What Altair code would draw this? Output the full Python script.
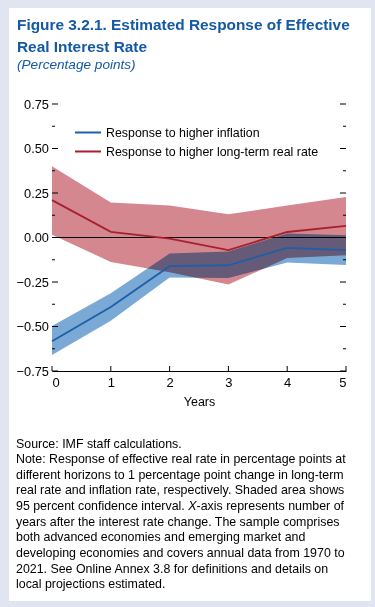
import altair as alt
import pandas as pd

# ---------------- data ----------------
years = [0, 1, 2, 3, 4, 5]
infl_mid = [-0.583, -0.390, -0.161, -0.156, -0.058, -0.071]
infl_lo = [-0.660, -0.468, -0.225, -0.228, -0.140, -0.155]
infl_hi = [-0.497, -0.313, -0.090, -0.078, 0.022, 0.013]
lt_mid = [0.210, 0.032, -0.006, -0.071, 0.031, 0.065]
lt_lo = [0.015, -0.137, -0.195, -0.264, -0.115, -0.100]
lt_hi = [0.400, 0.197, 0.180, 0.130, 0.180, 0.228]

series_names = ["Response to higher inflation", "Response to higher long-term real rate"]
line_colors = ["#1f5fa8", "#a8202e"]
band_colors = ["#79a9d4", "#d4878f"]

y_major = [-0.75, -0.5, -0.25, 0.0, 0.25, 0.5, 0.75]
y_minor = [-0.625, -0.375, -0.125, 0.125, 0.375, 0.625]

title_lines = ["Figure 3.2.1.  Estimated Response of Effective", "Real Interest Rate"]
subtitle = "(Percentage points)"
notes_a = [
    "Source: IMF staff calculations.",
    "Note: Response of effective real rate in percentage points at",
    "different horizons to 1 percentage point change in long-term",
    "real rate and inflation rate, respectively. Shaded area shows",
]
notes_line5 = ["95 percent confidence interval. ", "X", "-axis represents number of"]
notes_b = [
    "years after the interest rate change. The sample comprises",
    "both advanced economies and emerging market and",
    "developing economies and covers annual data from 1970 to",
    "2021. See Online Annex 3.8 for definitions and details on",
    "local projections estimated.",
]

rows = []
for i, yr in enumerate(years):
    rows.append(dict(year=yr, series=series_names[0], mid=infl_mid[i], lo=infl_lo[i], hi=infl_hi[i]))
    rows.append(dict(year=yr, series=series_names[1], mid=lt_mid[i], lo=lt_lo[i], hi=lt_hi[i]))
df = pd.DataFrame(rows)

FONT = "Liberation Sans, Arial, sans-serif"
BLUE_T = "#1459a4"
W, H = 294, 267

xs = alt.Scale(domain=[0, 5], nice=False, zero=False)
ys = alt.Scale(domain=[-0.75, 0.75], nice=False, zero=False)

x_axis = alt.Axis(values=years, format="d", title="Years", ticks=False, domain=True,
                  domainColor="black", domainWidth=1, grid=False, labelPadding=5,
                  titlePadding=6, labelFontSize=13, titleFontSize=12.5,
                  labelFont=FONT, titleFont=FONT, labelColor="black",
                  titleColor="black", titleFontWeight="normal", zindex=1)
y_axis = alt.Axis(values=y_major, format=".2f", ticks=False, domain=False, grid=False,
                  labelPadding=3.5, labelFontSize=12.8, labelFont=FONT, labelColor="black",
                  title=None, zindex=1)

def X(field):
    return alt.X(field, type="quantitative", scale=xs, axis=x_axis)

def Y(field):
    return alt.Y(field, type="quantitative", scale=ys, axis=y_axis, title=None)

one = pd.DataFrame({"k": [0]})

panel = alt.Chart(one).mark_rect(color="white").encode(
    x=alt.value(-43), x2=alt.value(319), y=alt.value(-96), y2=alt.value(497))

base = alt.Chart(df)
red_band = base.transform_filter(alt.datum.series == series_names[1]).mark_area(
    color=band_colors[1], opacity=1).encode(x=X("year"), y=Y("lo"), y2="hi")
blue_band = base.transform_filter(alt.datum.series == series_names[0]).mark_area(
    color=band_colors[0], opacity=1, blend="multiply").encode(x=X("year"), y=Y("lo"), y2="hi")

zero = alt.Chart(one).mark_rule(color="black", strokeWidth=1).encode(
    y=alt.Y("z:Q", scale=ys, axis=y_axis, title=None), x=alt.value(0), x2=alt.value(W)
).transform_calculate(z="0")

lines = base.mark_line(strokeWidth=1.8).encode(
    x=X("year"), y=Y("mid"),
    color=alt.Color("series:N",
                    scale=alt.Scale(domain=series_names, range=line_colors),
                    legend=alt.Legend(title=None, orient="none", legendX=22, legendY=21,
                                      symbolType="stroke", symbolSize=676,
                                      symbolStrokeWidth=2, clipHeight=15, rowPadding=4,
                                      labelFontSize=12.4, labelFont=FONT, labelColor="black",
                                      labelOffset=4, padding=0, labelLimit=400)),
    order="year:Q")

maj = pd.DataFrame({"v": y_major})
mnr = pd.DataFrame({"v": y_minor})
tick_l_maj = alt.Chart(maj).mark_rule(color="black").encode(y=Y("v"), x=alt.value(0), x2=alt.value(6))
tick_r_maj = alt.Chart(maj).mark_rule(color="black").encode(y=Y("v"), x=alt.value(W - 6), x2=alt.value(W))
tick_l_min = alt.Chart(mnr).mark_rule(color="black").encode(y=Y("v"), x=alt.value(0), x2=alt.value(3))
tick_r_min = alt.Chart(mnr).mark_rule(color="black").encode(y=Y("v"), x=alt.value(W - 3), x2=alt.value(W))
xt = pd.DataFrame({"year": years})
tick_x = alt.Chart(xt).mark_rule(color="black").encode(x=X("year"), y=alt.value(H), y2=alt.value(H - 5))

def txt(text, x, y, size, **kw):
    return alt.Chart(one).mark_text(align="left", baseline="alphabetic", font=FONT,
                                    fontSize=size, **kw).encode(
        text=alt.value(text), x=alt.value(x), y=alt.value(y))

t1 = txt(title_lines[0], -35, -74, 15.4, fontWeight="bold", color=BLUE_T)
t2 = txt(title_lines[1], -35, -52.3, 15.4, fontWeight="bold", color=BLUE_T)
t3 = txt(subtitle, -35, -35, 13.6, fontStyle="italic", color=BLUE_T)

LH = 15.63
FS = 12.4
y0 = 343.5
na = txt(notes_a, -36, y0, FS, color="black", lineHeight=LH)
n5a = txt(notes_line5[0], -36, y0 + 4 * LH, FS, color="black")
n5b = txt(notes_line5[1], 136.3, y0 + 4 * LH, FS, color="black", fontStyle="italic")
n5c = txt(notes_line5[2], 144.6, y0 + 4 * LH, FS, color="black")
nb = txt(notes_b, -36, y0 + 5 * LH, FS, color="black", lineHeight=LH)

chart = alt.layer(
    panel, red_band, blue_band, zero, lines,
    tick_l_maj, tick_r_maj, tick_l_min, tick_r_min, tick_x,
    t1, t2, t3, na, n5a, n5b, n5c, nb
).properties(
    width=W, height=H,
    autosize=alt.AutoSizeParams(type="none"),
    padding={"left": 52, "top": 104, "right": 29, "bottom": 236},
    background="#e1e4f1",
).configure_view(stroke=None)

chart.save("out.html", embed_options={"renderer": "svg", "actions": False})
